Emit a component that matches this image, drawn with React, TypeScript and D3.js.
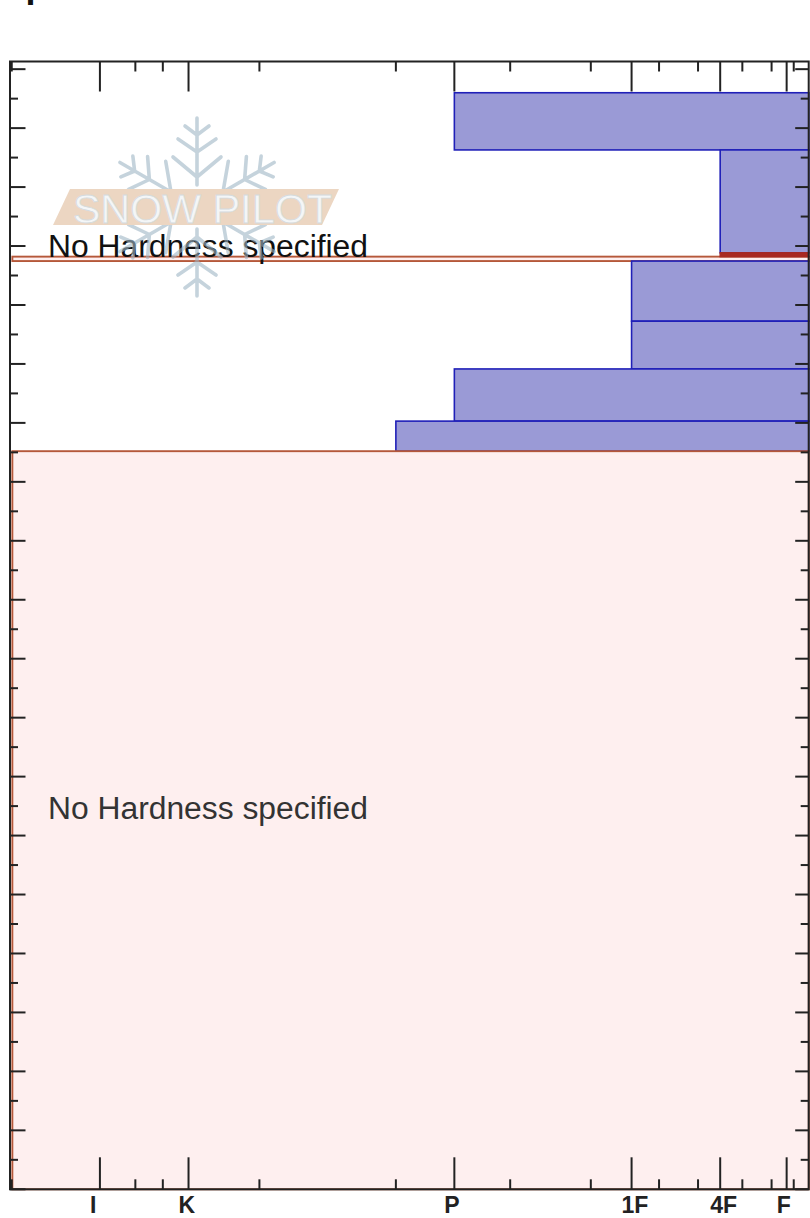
import React from "react";
import * as d3 from "d3";

const hardnessLabels = ["I", "K", "P", "1F", "4F", "F"];
const hardnessMajor = [1, 2, 5, 7, 8, 8.75];
const hardnessMinor = [1.4, 1.71, 2.8, 4.34, 5.63, 6.54, 7.31, 7.75, 8.25, 8.58, 8.83];

const layerTops = [186, 176.3, 158.85, 158.2, 157.45, 147.25, 139.15, 130.3, 125.2];
const layerBottoms = [176.3, 158.85, 158.2, 157.45, 147.25, 139.15, 130.3, 125.2, 0];
const layerHardness = [5, 8, 8, 0.012, 7, 7, 5, 4.34, 0.012];
const layerKinds = ["hard", "hard", "crust", "none", "hard", "hard", "hard", "hard", "none"];

const noHardnessLabel = "No Hardness specified";
const titleFragment = "p";
const logoText = "SNOW PILOT";

const W = 810;
const H = 1218;
const left = 10;
const right = 808.7;
const top = 61.5;
const bottom = 1189.3;

const x = d3.scaleLinear().domain([0, 9]).range([11.3, 808.8]);
const y = d3.scaleLinear().domain([0, 191.3]).range([bottom, top]);
const yTicks = d3.range(0, 191, 5);

const fills: Record<string, string> = { hard: "#9a9ad6", crust: "#a82a22", none: "#feefef" };
const strokes: Record<string, string> = { hard: "#2020b8", crust: "#a82a22", none: "#b5583a" };

const armPath =
  "M0,-22L0,-89 M0,-30L-24,-50 M0,-30L24,-50 M0,-55L-19,-68 M0,-55L19,-68 M0,-72L-12,-81 M0,-72L12,-81";
const armAngles = [0, 60, 120, 180, 240, 300];

const drawOrder = layerTops.map((_, i) => i).sort((a, b) => (layerKinds[a] === "crust" ? 1 : 0) - (layerKinds[b] === "crust" ? 1 : 0));

export default function App() {
  return (
    <svg
      width={W}
      height={H}
      viewBox={`0 0 ${W} ${H}`}
      style={{ position: "absolute", left: 0, top: 0, fontFamily: "'Liberation Sans', Arial, sans-serif" }}
    >
      <rect width={W} height={H} fill="#fff" />
      <text x={25.5} y={-3.5} fontSize={36} fontWeight="bold" fill="#111">{titleFragment}</text>

      {drawOrder.map((i) => (
        <rect
          key={i}
          x={x(layerHardness[i])}
          y={y(layerTops[i])}
          width={x.range()[1] - x(layerHardness[i])}
          height={y(layerBottoms[i]) - y(layerTops[i])}
          fill={fills[layerKinds[i]]}
          stroke={strokes[layerKinds[i]]}
          strokeWidth={layerKinds[i] === "crust" ? 1.5 : layerKinds[i] === "none" ? 1.9 : 1.6}
        />
      ))}

      <text x={48} y={257} fontSize={31} fill="#111" textLength={320} lengthAdjust="spacingAndGlyphs">
        {noHardnessLabel}
      </text>
      <text x={48} y={819} fontSize={31} fill="#333" textLength={320} lengthAdjust="spacingAndGlyphs">
        {noHardnessLabel}
      </text>

      <g transform="translate(197,207)" fill="none" stroke="#9fb6c4" strokeWidth={3.6} strokeOpacity={0.6} strokeLinecap="round">
        {armAngles.map((a) => (
          <path key={a} d={armPath} transform={`rotate(${a})`} />
        ))}
      </g>
      <polygon points="70,189 339,189 322,225 53,225" fill="#ecd6c2" />
      <text
        x={73}
        y={222.5}
        fontSize={41}
        fill="#f4f6f7"
        stroke="#d5dbde"
        strokeWidth={0.8}
        textLength={259}
        lengthAdjust="spacing"
      >
        {logoText}
      </text>

      <g stroke="#222" strokeWidth={2} fill="none">
        <rect x={left} y={top} width={right - left} height={bottom - top} />
        {hardnessMajor.map((v) => (
          <g key={v}>
            <line x1={x(v)} x2={x(v)} y1={top} y2={top + 30} />
            <line x1={x(v)} x2={x(v)} y1={bottom} y2={bottom - 32} />
          </g>
        ))}
        {hardnessMinor.map((v) => (
          <g key={v}>
            <line x1={x(v)} x2={x(v)} y1={top} y2={top + 10} />
            <line x1={x(v)} x2={x(v)} y1={bottom} y2={bottom - 10} />
          </g>
        ))}
        {yTicks.map((v) => {
          const major = v % 10 === 0;
          return (
            <g key={v}>
              <line x1={left} x2={left + (major ? 15.5 : 8)} y1={y(v)} y2={y(v)} />
              <line x1={right} x2={right - (major ? 13.5 : 8)} y1={y(v)} y2={y(v)} />
            </g>
          );
        })}
        <line x1={left + 1.5} x2={left + 1.5} y1={top} y2={top + 10} strokeWidth={2.5} />
        <line x1={left + 1.5} x2={left + 1.5} y1={bottom} y2={bottom - 10} strokeWidth={2.5} />
      </g>

      {hardnessLabels.map((l, i) => (
        <text key={l} x={x(hardnessMajor[i]) - 10} y={1213} fontSize={23} fontWeight="bold" fill="#222">
          {l}
        </text>
      ))}
    </svg>
  );
}
